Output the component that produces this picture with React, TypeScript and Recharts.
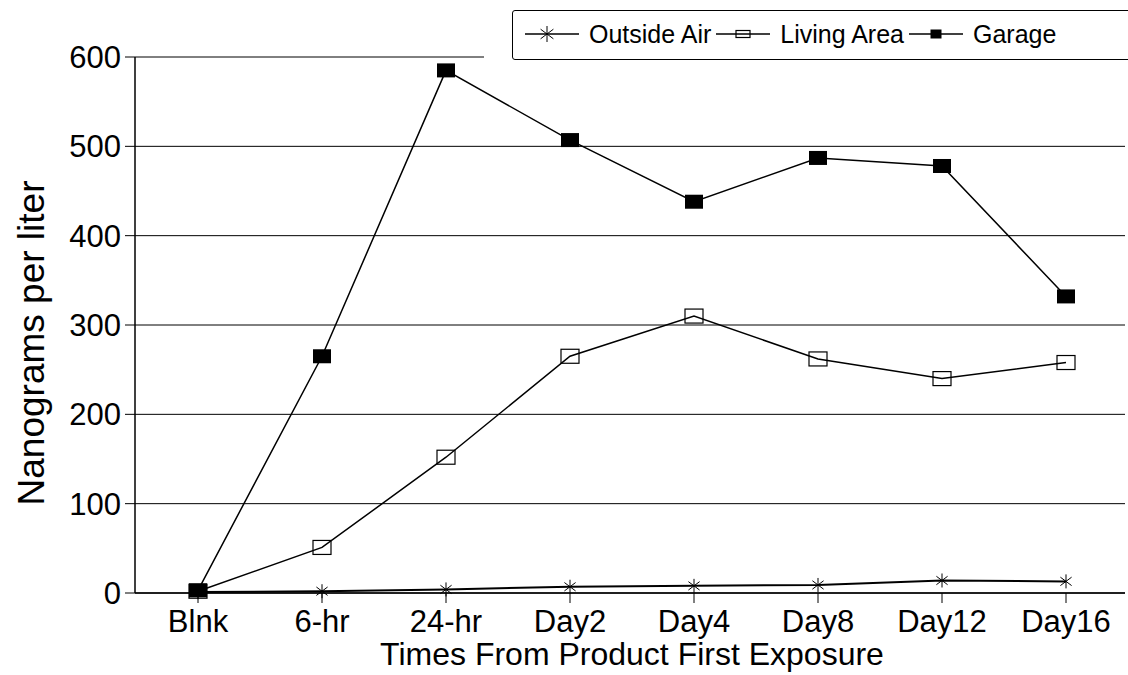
import React from 'react'
import { LineChart, Line, XAxis, YAxis, CartesianGrid } from 'recharts'

const categories = ['Blnk', '6-hr', '24-hr', 'Day2', 'Day4', 'Day8', 'Day12', 'Day16']
const outsideAir = [1, 2, 4, 7, 8, 9, 14, 13]
const livingArea = [2, 51, 152, 265, 310, 262, 240, 258]
const garage = [3, 265, 585, 507, 438, 487, 478, 332]
const yTicks = [0, 100, 200, 300, 400, 500, 600]

const FONT = '"Liberation Sans", Arial, Helvetica, sans-serif'

const data = categories.map((t, i) => ({
  t,
  outside: outsideAir[i],
  living: livingArea[i],
  garage: garage[i],
}))

type Marker = 'star' | 'open' | 'filled'

const SERIES: { key: string; name: string; marker: Marker }[] = [
  { key: 'outside', name: 'Outside Air', marker: 'star' },
  { key: 'living', name: 'Living Area', marker: 'open' },
  { key: 'garage', name: 'Garage', marker: 'filled' },
]

function drawMarker(kind: Marker, cx: number, cy: number, w: number, h: number, key?: string) {
  if (kind === 'filled') {
    return <rect key={key} x={cx - w / 2} y={cy - h / 2} width={w} height={h} fill="#000" />
  }
  if (kind === 'open') {
    return (
      <rect key={key} x={cx - w / 2} y={cy - h / 2} width={w} height={h} fill="none" stroke="#000" strokeWidth={1.2} />
    )
  }
  const r = h / 2
  return (
    <g key={key} stroke="#000" strokeWidth={1}>
      <line x1={cx} y1={cy - r} x2={cx} y2={cy + r} />
      <line x1={cx - r * 0.8} y1={cy - r * 0.6} x2={cx + r * 0.8} y2={cy + r * 0.6} />
      <line x1={cx + r * 0.8} y1={cy - r * 0.6} x2={cx - r * 0.8} y2={cy + r * 0.6} />
    </g>
  )
}

// eslint-disable-next-line @typescript-eslint/no-explicit-any
const dotFor = (kind: Marker) => (props: any) => {
  const { cx, cy, index } = props
  if (kind === 'star') return drawMarker(kind, cx, cy, 14, 14, `d${index}`)
  return drawMarker(kind, cx, cy, 18, 14, `d${index}`)
}

function YLabel() {
  return (
    <text
      x={31}
      y={343}
      transform="rotate(-90 31 343)"
      textAnchor="middle"
      dominantBaseline="central"
      fontSize={37}
      fontFamily={FONT}
      fill="#000"
    >
      Nanograms per liter
    </text>
  )
}

function XLabel() {
  return (
    <text x={632} y={665} textAnchor="middle" fontSize={32} fontFamily={FONT} fill="#000">
      Times From Product First Exposure
    </text>
  )
}

function LegendBox() {
  return (
    <div
      style={{
        position: 'absolute',
        left: 484,
        top: 0,
        width: 644,
        height: 61,
        background: '#fff',
        overflow: 'hidden',
      }}
    >
      <div
        style={{
          position: 'absolute',
          left: 28,
          top: 10,
          width: 640,
          height: 50,
          border: '1.5px solid #000',
          borderRadius: 3,
          display: 'flex',
          alignItems: 'center',
          paddingLeft: 12,
          paddingBottom: 2,
          fontFamily: FONT,
          fontSize: 25,
          color: '#000',
          boxSizing: 'border-box',
        }}
      >
        {SERIES.map((s) => (
          <div key={s.key} style={{ display: 'flex', alignItems: 'center', marginRight: 5 }}>
            <svg width={54} height={24} style={{ marginRight: 10 }}>
              <line x1={0} y1={12} x2={54} y2={12} stroke="#000" strokeWidth={1.5} />
              {s.marker === 'star'
                ? drawMarker('star', 22, 12, 14, 16)
                : s.marker === 'open'
                  ? drawMarker('open', 27, 12, 14, 7)
                  : drawMarker('filled', 27, 12, 11, 9)}
            </svg>
            <span>{s.name}</span>
          </div>
        ))}
      </div>
    </div>
  )
}

export default function App() {
  return (
    <div style={{ position: 'absolute', left: 0, top: 0, width: 1128, height: 675, background: '#fff' }}>
      <LineChart
        width={1128}
        height={675}
        data={data}
        margin={{ top: 57, right: 3, bottom: 22, left: 35 }}
        style={{ fontFamily: FONT }}
      >
        <CartesianGrid yAxisId="left" vertical={false} stroke="#000" strokeWidth={1} />
        <XAxis
          dataKey="t"
          scale="point"
          padding={{ left: 63, right: 59 }}
          height={60}
          tickSize={10}
          tickMargin={7}
          axisLine={{ stroke: '#000', strokeWidth: 1.5 }}
          tickLine={{ stroke: '#000' }}
          tick={{ fontSize: 31, fill: '#000', fontFamily: FONT }}
          interval={0}
          label={{ content: () => <XLabel /> }}
        />
        <YAxis
          yAxisId="left"
          domain={[0, 600]}
          ticks={yTicks}
          width={100}
          tickSize={10}
          tickMargin={4}
          axisLine={{ stroke: '#000', strokeWidth: 1.5 }}
          tickLine={{ stroke: '#000' }}
          tick={{ fontSize: 31, fill: '#000', fontFamily: FONT }}
          label={{ content: () => <YLabel /> }}
        />
        <YAxis
          yAxisId="right"
          orientation="right"
          domain={[0, 600]}
          ticks={yTicks}
          width={0}
          tick={false}
          tickLine={false}
          axisLine={{ stroke: '#000', strokeWidth: 1.5 }}
        />
        {SERIES.map((s) => (
          <Line
            key={s.key}
            yAxisId="left"
            type="linear"
            dataKey={s.key}
            name={s.name}
            stroke="#000"
            strokeWidth={s.key === 'outside' ? 2 : 1.5}
            dot={dotFor(s.marker)}
            activeDot={false}
            isAnimationActive={false}
          />
        ))}
      </LineChart>
      <LegendBox />
    </div>
  )
}
